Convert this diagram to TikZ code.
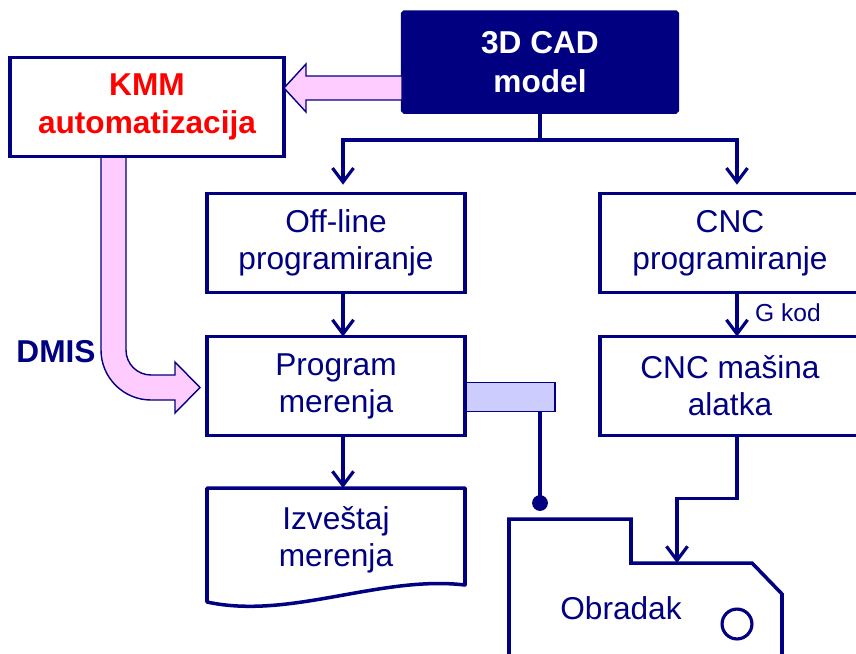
\documentclass[tikz,border=0pt]{standalone}
\usepackage{fontspec}
\setmainfont{Liberation Sans}
\usetikzlibrary{arrows.meta, calc, positioning}
\definecolor{darkblue}{RGB}{0,0,128}
\definecolor{lightpink}{RGB}{255,204,255}
\definecolor{lavender}{RGB}{204,204,255}
\definecolor{brightred}{RGB}{255,0,0}

\begin{document}
\begin{tikzpicture}[x=0.02cm, y=-0.02cm,
    box/.style={draw=darkblue, line width=2pt, fill=white, outer sep=0pt, inner sep=2pt, align=center,
        text=darkblue, font=\fontsize{18}{21}\selectfont, minimum width=5.16cm, minimum height=1.98cm},
    arr/.style={draw=darkblue, line width=1.8pt, -{Straight Barb[length=8pt, width=12pt]}},
    wire/.style={draw=darkblue, line width=1.8pt},
    fat/.style={draw=darkblue, line width=0.8pt, fill=lightpink, line join=miter}]
    \useasboundingbox (0,0) rectangle (856,653);

    % Boxes
    \node[box, fill=darkblue, text=white, font=\bfseries\fontsize{18}{22}\selectfont,
        minimum width=5.5cm, minimum height=2cm, rounded corners=1pt] (cad) at (540,62) {3D CAD\\model};
    \node[box, text=brightred, font=\bfseries\fontsize{18}{22}\selectfont, minimum width=5.48cm] (kmm) at (147,107) {KMM\\automatizacija};
    \node[box] (off) at (336,243) {Off-line\\programiranje};
    \node[box] (prog) at (336,386) {Program\\merenja};
    \node[box, draw=none, fill=none, minimum height=2.08cm] (izv) at (336,540) {Izveštaj\\merenja};
    \node[box, minimum width=5.2cm] (cncp) at (730,243) {CNC\\programiranje};
    \node[box, minimum width=5.2cm] (cncm) at (730,386) {CNC mašina\\alatka};

    % Report sheet
    \draw[darkblue, line width=2pt, line join=round] (207,602) -- (207,488) -- (465,488) -- (465,585)
        .. controls (380,575) and (290,620) .. (207,602) -- cycle;

    % Probe
    \node[draw=darkblue, line width=0.8pt, fill=lavender, minimum width=1.78cm, minimum height=0.58cm,
        inner sep=0pt, outer sep=0pt] (probe) at (510.5,397) {};
    \coordinate (tip) at (540,503);
    \draw[wire] (probe.south -| tip) -- (tip);
    \fill[darkblue] (tip) circle (4.5pt);

    % Workpiece
    \draw[darkblue, line width=2pt, line join=miter] (509,670) -- (509,519) -- (631,519) -- (631,563)
        -- (752,563) -- (782,594) -- (782,670);
    \node[text=darkblue, font=\fontsize{18}{21}\selectfont] (obr) at (621,608) {Obradak};
    \draw[darkblue, line width=1.8pt] (737,624) circle (8.5pt);
    \coordinate (obrtop) at (677,563);

    % Connectors
    \coordinate (split) at (540,140);
    \coordinate (lx) at (343,140);
    \coordinate (gx) at (737,140);
    \draw[wire] (cad.south) -- (split);
    \draw[arr, shorten >=5pt] (split) -| (lx |- off.north);
    \draw[arr, shorten >=5pt] (split) -| (gx |- cncp.north);
    \draw[arr] (lx |- off.south) -- (lx |- prog.north);
    \draw[arr] (lx |- prog.south) -- (lx |- izv.north);
    \draw[arr] (gx |- cncp.south) -- (gx |- cncm.north);
    \node[text=darkblue, font=\fontsize{14}{16}\selectfont, anchor=west] (gkod) at (749,313) {G kod};
    \draw[arr] (gx |- cncm.south) -- ++(0,63) -| (obrtop);

    % Wide arrows
    \draw[fat] (284,88) -- (306,64) -- (306,76) -- (402,76) -- (402,100) -- (306,100) -- (306,112) -- cycle;
    \draw[fat] (101,158) -- (101,350) .. controls (101,377.6) and (123.4,400) .. (151,400) -- (175,400)
        -- (175,413) -- (200,387.5) -- (175,362) -- (175,375) -- (151,375)
        .. controls (137.2,375) and (126,363.8) .. (126,350) -- (126,158);
    \node[text=darkblue, font=\bfseries\fontsize{18}{21}\selectfont] (dmis) at (56,352) {DMIS};
\end{tikzpicture}
\end{document}
